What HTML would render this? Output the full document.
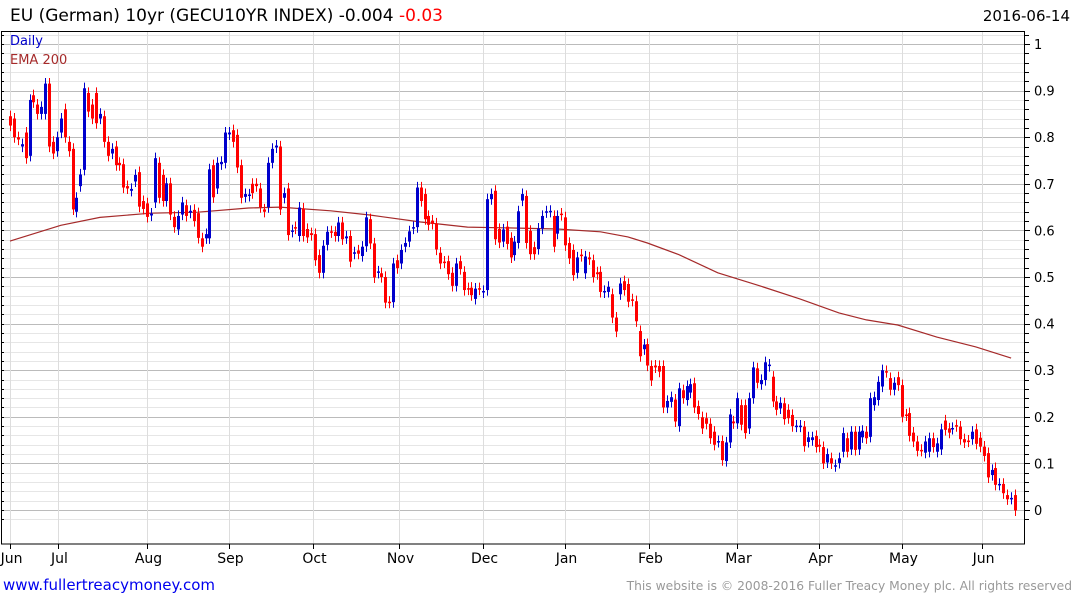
<!DOCTYPE html>
<html><head><meta charset="utf-8"><style>
body{margin:0;background:#fff;}
svg{display:block;font-family:"DejaVu Sans","Liberation Sans",sans-serif;}
</style></head><body>
<svg id="chart" width="1075" height="600" viewBox="0 0 1075 600" xmlns="http://www.w3.org/2000/svg">
<text x="10" y="21" font-size="17" fill="#000">EU (German) 10yr (GECU10YR INDEX) -0.004 <tspan fill="#ff0000">-0.03</tspan></text>
<text x="1070" y="21" font-size="15" fill="#000" text-anchor="end">2016-06-14</text>
<g id="grid"></g>
<g id="ema"></g>
<g id="candles"></g>
<rect x="1.5" y="31.5" width="1023" height="512.5" fill="none" stroke="#000" stroke-width="1"/>
<g id="axes"></g>
<text x="10" y="45" font-size="13" fill="#0000cc">Daily</text>
<text x="10" y="64" font-size="13" fill="#a52a2a">EMA 200</text>
<text x="3" y="590" font-size="15" fill="#0000ee">www.fullertreacymoney.com</text>
<text x="1072" y="590" font-size="12.3" fill="#999" text-anchor="end">This website is © 2008-2016 Fuller Treacy Money plc. All rights reserved</text>
</svg>
<script>
const opens=[0.845,0.84,0.80,0.78,0.81,0.76,0.89,0.87,0.85,0.85,0.915,0.79,0.77,0.81,0.86,0.79,0.775,0.64,0.695,0.73,0.895,0.87,0.895,0.84,0.845,0.79,0.765,0.78,0.745,0.742,0.695,0.685,0.705,0.725,0.663,0.658,0.632,0.66,0.745,0.719,0.663,0.701,0.629,0.602,0.634,0.654,0.638,0.644,0.637,0.583,0.583,0.583,0.740,0.69,0.742,0.745,0.806,0.815,0.805,0.74,0.672,0.674,0.70,0.70,0.69,0.645,0.65,0.745,0.778,0.78,0.67,0.69,0.597,0.607,0.588,0.647,0.603,0.594,0.592,0.547,0.509,0.569,0.598,0.597,0.588,0.617,0.583,0.588,
0.55,0.557,0.545,0.566,0.624,0.572,0.509,0.508,0.5,0.447,0.446,0.536,0.529,0.565,0.576,0.604,0.607,0.692,0.678,0.631,0.621,0.615,0.552,0.533,0.534,0.509,0.481,0.534,0.511,0.476,0.477,0.453,0.476,0.467,0.472,0.667,0.685,0.603,0.576,0.608,0.584,0.547,0.573,0.664,0.674,0.599,0.564,0.56,0.604,0.639,0.64,0.631,0.593,0.636,0.628,0.573,0.558,0.509,0.548,0.508,0.542,0.536,0.51,0.511,0.467,0.468,0.463,0.413,0.463,0.491,0.485,0.452,0.448,0.384,
0.345,0.356,0.309,0.31,0.309,0.309,0.22,0.232,0.237,0.18,0.257,0.236,0.252,0.272,0.223,0.199,0.197,0.185,0.168,0.146,0.148,0.105,0.145,0.19,0.186,0.225,0.225,0.175,0.24,0.304,0.27,0.279,0.309,0.286,0.233,0.218,0.229,0.215,0.204,0.179,0.179,0.179,0.146,0.15,0.159,0.14,0.135,0.102,0.111,0.094,0.101,0.125,0.154,0.13,0.168,0.13,0.156,0.168,0.157,0.225,0.236,0.265,0.298,0.283,0.258,0.285,0.268,0.205,0.208,0.166,0.147,0.129,0.123,0.125,0.154,0.125,0.13,0.192,0.175,0.174,0.182,0.179,0.152,0.149,0.152,0.173,0.155,0.136,0.122,0.075,0.09,0.054,0.056,0.032,0.024,0.032];
const closes=[0.825,0.80,0.795,0.785,0.755,0.88,0.875,0.85,0.865,0.915,0.78,0.765,0.80,0.84,0.80,0.77,0.645,0.67,0.72,0.905,0.855,0.84,0.83,0.85,0.79,0.76,0.775,0.74,0.74,0.692,0.69,0.689,0.719,0.651,0.646,0.629,0.636,0.755,0.670,0.663,0.701,0.634,0.607,0.631,0.66,0.631,0.642,0.62,0.584,0.565,0.592,0.731,0.671,0.745,0.747,0.81,0.81,0.79,0.735,0.67,0.678,0.677,0.68,0.695,0.65,0.64,0.745,0.775,0.782,0.645,0.68,0.59,0.60,0.604,0.649,0.588,0.585,0.59,0.536,0.509,0.567,0.597,0.596,0.588,0.617,0.581,0.587,0.533,
0.553,0.55,0.565,0.628,0.572,0.499,0.512,0.50,0.445,0.445,0.529,0.519,0.558,0.573,0.598,0.607,0.692,0.663,0.624,0.612,0.614,0.559,0.529,0.531,0.506,0.481,0.529,0.517,0.472,0.473,0.461,0.475,0.473,0.47,0.667,0.678,0.581,0.574,0.602,0.571,0.542,0.576,0.641,0.678,0.573,0.549,0.549,0.604,0.631,0.641,0.642,0.565,0.631,0.633,0.568,0.54,0.504,0.542,0.545,0.544,0.538,0.50,0.506,0.468,0.47,0.479,0.413,0.383,0.486,0.472,0.447,0.449,0.405,0.33,
0.355,0.31,0.278,0.306,0.297,0.22,0.234,0.242,0.19,0.261,0.24,0.266,0.27,0.22,0.206,0.175,0.185,0.154,0.14,0.148,0.107,0.145,0.205,0.186,0.24,0.183,0.165,0.24,0.306,0.273,0.279,0.317,0.312,0.233,0.215,0.23,0.195,0.197,0.18,0.181,0.181,0.137,0.156,0.156,0.135,0.136,0.1,0.12,0.1,0.096,0.111,0.165,0.125,0.168,0.129,0.168,0.17,0.154,0.24,0.242,0.275,0.30,0.296,0.258,0.273,0.268,0.20,0.203,0.159,0.147,0.127,0.127,0.147,0.154,0.135,0.143,0.173,0.172,0.166,0.176,0.180,0.152,0.145,0.147,0.168,0.142,0.136,0.116,0.07,0.086,0.054,0.056,0.036,0.023,0.026,-0.001];
const emaIdx=[0,13,23,36,48,61,69,82,92,105,117,130,140,151,158,163,171,181,191,202,212,219,227,237,247,256];
const emaVals=[0.577,0.611,0.628,0.637,0.639,0.648,0.650,0.642,0.633,0.618,0.607,0.605,0.603,0.597,0.586,0.573,0.548,0.509,0.483,0.453,0.423,0.408,0.397,0.371,0.350,0.326];
const yTicks=[0,0.1,0.2,0.3,0.4,0.5,0.6,0.7,0.8,0.9,1];
const yTickLabels=["0","0.1","0.2","0.3","0.4","0.5","0.6","0.7","0.8","0.9","1"];
const monthLabels=["Jun","Jul","Aug","Sep","Oct","Nov","Dec","Jan","Feb","Mar","Apr","May","Jun"];
const monthIdx=[0,12.3,35,56,77.5,99.5,121,142,163.5,186,207,228,248.5];

const NS="http://www.w3.org/2000/svg";
const X0=10,X1=1015;
const xs=i=>X0+(X1-X0)*i/(closes.length-1);
const ys=v=>510-466*v;
function mk(tag,attrs,parent){const e=document.createElementNS(NS,tag);for(const k in attrs)e.setAttribute(k,attrs[k]);parent.appendChild(e);return e;}
const grid=document.getElementById('grid'),axes=document.getElementById('axes'),cg=document.getElementById('candles'),eg=document.getElementById('ema');
for(let k=-1;k<=51;k++){const v=k*0.02;const y=Math.round(ys(v))+0.5;if(y<32||y>543)continue;
 const major=k%5===0;
 const l=mk('line',{x1:2,x2:1025,y1:y,y2:y,stroke:major?'#bbbbbb':'#e6e6e6','stroke-width':1},grid);
 
 
 const t=mk('line',{x1:1025,x2:major?1030:1029,y1:y,y2:y,stroke:'#000'},axes);
 
 
 const t2=mk('line',{x1:1,x2:4,y1:y,y2:y,stroke:'#000'},axes);
 
 
}
yTicks.forEach((v,i)=>{const t=mk('text',{x:1034,y:ys(v)+5,'font-size':13,fill:'#000'},axes);t.textContent=yTickLabels[i];
 
 });
monthLabels.forEach((m,i)=>{const x=Math.round(xs(monthIdx[i]))+0.5;
 const l=mk('line',{x1:x,x2:x,y1:32,y2:544,stroke:'#dddddd'},grid);
 
 
 const t=mk('line',{x1:x,x2:x,y1:544,y2:549,stroke:'#000'},axes);
 
 
 const tx=mk('text',{x:x+1,y:563,'font-size':14,fill:'#000','text-anchor':'middle'},axes);tx.textContent=m;
 
 });
let d='';emaIdx.forEach((i,k)=>{d+=(k?'L':'M')+xs(i).toFixed(1)+' '+ys(emaVals[k]).toFixed(1);});
const ep=mk('path',{d:d,fill:'none',stroke:'#a52a2a','stroke-width':1.2},eg);


closes.forEach((c,i)=>{const o=opens[i];const up=c>=o;const col=up?'#0000cc':'#ff0000';
 const x=Math.round(xs(i));const hi=Math.max(o,c)+0.012,lo=Math.min(o,c)-0.012;
 const g=mk('g',{},cg);
 
 
 mk('line',{x1:x+0.5,x2:x+0.5,y1:ys(hi),y2:ys(lo),stroke:col,'stroke-width':1},g);
 const top=ys(Math.max(o,c)),h=Math.max(1.5,ys(Math.min(o,c))-top);
 mk('rect',{x:x-1,y:top,width:3,height:h,fill:col},g);
});
</script>
</body></html>
